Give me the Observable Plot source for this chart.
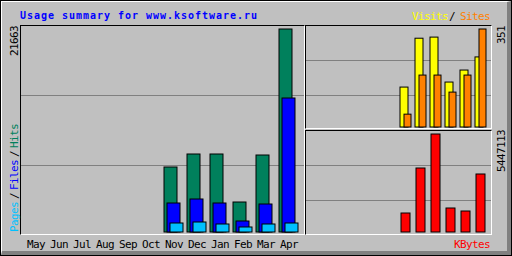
<!DOCTYPE html>
<html><head><meta charset="utf-8">
<script src="https://cdn.jsdelivr.net/npm/d3@7"></script>
<script src="https://cdn.jsdelivr.net/npm/@observablehq/plot@0.6"></script>
<style>
html,body{margin:0;padding:0;background:#C0C0C0;}
#chart{position:relative;width:512px;height:256px;background:#C0C0C0;overflow:hidden;font-family:"DejaVu Sans Mono",monospace;}
.frame{position:absolute;left:0;top:0;width:512px;height:256px;box-sizing:border-box;border:1px solid #000;}
.bevel{position:absolute;left:1px;top:1px;width:510px;height:254px;box-sizing:border-box;border-top:1px solid #fff;border-left:1px solid #fff;border-right:4px solid #808080;border-bottom:4px solid #808080;}
.panel{position:absolute;box-sizing:border-box;border-top:1px solid #000;border-left:1px solid #000;border-right:1px solid #fff;border-bottom:1px solid #fff;overflow:hidden;}
.lbl{position:absolute;white-space:nowrap;font-size:11px;line-height:11px;letter-spacing:-0.62px;}
.title{position:absolute;white-space:nowrap;font-size:10px;line-height:10px;font-weight:bold;letter-spacing:0.98px;color:#0000FF;}
.up{transform-origin:0 0;transform:rotate(-90deg);}
.up span{display:inline-block;}
</style></head>
<body>
<div id="chart">
  <div class="frame"></div>
  <div class="bevel"></div>
  <div class="panel" id="pMain" style="left:20px;top:25px;width:285px;height:210px;"></div>
  <div class="panel" id="pTop" style="left:305px;top:25px;width:187px;height:104px;"></div>
  <div class="panel" id="pBot" style="left:305px;top:130px;width:187px;height:105px;"></div>
</div>
<script>
// ---- data ----
const months = ["May","Jun","Jul","Aug","Sep","Oct","Nov","Dec","Jan","Feb","Mar","Apr"];
const hits   = [0,0,0,0,0,0, 6937, 8324, 8324, 3201, 8217, 21663];
const files  = [0,0,0,0,0,0, 3095, 3522, 3095, 1174, 2988, 14300];
const pages  = [0,0,0,0,0,0,  960, 1067,  854,  534,  854,   960];
const visits = [0,0,0,0,0,0,  143,  318,  322,  161,  204,   251];
const sites  = [0,0,0,0,0,0,   46,  186,  186,  125,  186,   351];
const kbytes = [0,0,0,0,0,0, 1056000, 3557000, 5447113, 1334000, 1167000, 3224000];
const gridLevels = [1, 2];
const titleText = "Usage summary for www.ksoftware.ru";

const rows = months.map((m, i) => ({month: m, hits: hits[i], files: files[i], pages: pages[i],
  visits: visits[i], sites: sites[i], kbytes: kbytes[i]}));

const maxHits = d3.max(hits);
const maxVS = d3.max([...visits, ...sites]);
const maxKB = d3.max(kbytes);

const baseStyle = {background: "transparent", fontFamily: "'DejaVu Sans Mono', monospace", fontSize: "11px", letterSpacing: "-0.62px", color: "#000"};
const chart = document.getElementById("chart");
function place(svg, parent) {
  svg.style.position = "absolute"; svg.style.left = "0px"; svg.style.top = "0px";
  svg.style.maxWidth = "none"; svg.style.background = "transparent";
  parent.appendChild(svg);
}

// ---- grids (inside panels) ----
function gridPlot(w, h, range) {
  return Plot.plot({width: w, height: h, margin: 0, style: baseStyle,
    y: {domain: [0, 3], range, axis: null},
    marks: [Plot.ruleY(gridLevels, {y: d => d, stroke: "#808080"})]});
}
place(gridPlot(283, 208, [209, -1]), document.getElementById("pMain"));
place(gridPlot(185, 102, [104, -1]), document.getElementById("pTop"));
place(gridPlot(185, 103, [104, -1]), document.getElementById("pBot"));

// ---- main hits/files/pages ----
place(Plot.plot({
  width: 512, height: 256, marginTop: 29, marginBottom: 24, marginLeft: 0, marginRight: 0,
  style: baseStyle,
  x: {type: "band", domain: months, range: [26, 292], paddingInner: 10/23, paddingOuter: 0, align: 0, round: false},
  y: {domain: [0, maxHits], axis: null},
  marks: [
    Plot.barY(rows, {filter: d => d.hits > 0, x: "month", y: "hits", inset: 0, fill: "#00805C", stroke: "#000"}),
    Plot.barY(rows, {filter: d => d.files > 0, x: "month", y: "files", dx: 3, inset: 0, fill: "#0000FF", stroke: "#000"}),
    Plot.barY(rows, {filter: d => d.pages > 0, x: "month", y: "pages", dx: 6, inset: 0, fill: "#00C0FF", stroke: "#000"}),
    Plot.axisX({tickSize: 0, tickPadding: 8, dx: 3, label: null, fill: "#000"})
  ]
}), chart);

// ---- visits / sites ----
place(Plot.plot({
  width: 512, height: 256, marginTop: 29, marginBottom: 129, marginLeft: 0, marginRight: 0,
  style: baseStyle,
  x: {type: "band", domain: months, range: [310, 483], paddingInner: 7/15, paddingOuter: 0, align: 0, round: false, axis: null},
  y: {domain: [0, maxVS], axis: null},
  marks: [
    Plot.barY(rows, {filter: d => d.visits > 0, x: "month", y: "visits", inset: 0, fill: "#FFFF00", stroke: "#000"}),
    Plot.barY(rows, {filter: d => d.sites > 0, x: "month", y: "sites", dx: 4, insetLeft: 0, insetRight: 1, fill: "#FF8000", stroke: "#000"})
  ]
}), chart);

// ---- kbytes ----
place(Plot.plot({
  width: 512, height: 256, marginTop: 134, marginBottom: 24, marginLeft: 0, marginRight: 0,
  style: baseStyle,
  x: {type: "band", domain: months, range: [311, 485], paddingInner: 6/15, paddingOuter: 0, align: 0, round: false, axis: null},
  y: {domain: [0, maxKB], axis: null},
  marks: [
    Plot.barY(rows, {filter: d => d.kbytes > 0, x: "month", y: "kbytes", inset: 0, fill: "#FF0000", stroke: "#000"})
  ]
}), chart);

// ---- labels ----
function addLabel(html, cls, left, top) {
  const d = document.createElement("div");
  d.className = cls; d.style.left = left + "px"; d.style.top = top + "px";
  d.innerHTML = html; chart.appendChild(d); return d;
}
const t = addLabel("", "title", 20, 10.5); t.textContent = titleText;
addLabel('<span style="color:#FFFF00">Visits</span>', "lbl", 412, 11.4);
addLabel('<span style="color:#000">/</span>', "lbl", 449, 11.4);
addLabel('<span style="color:#FF8000">Sites</span>', "lbl", 460, 11.4);
addLabel('<span style="color:#FF0000">KBytes</span>', "lbl", 454, 239.2);
addLabel('<span>' + maxHits + '</span>', "lbl up", 8.7, 56);
addLabel('<span style="color:#00C0FF">Pages</span><span style="margin-left:3px;color:#000">/</span><span style="margin-left:3px;color:#0000FF">Files</span><span style="margin-left:3px;color:#000">/</span><span style="margin-left:3px;color:#00805C">Hits</span>', "lbl up", 8.7, 232);
addLabel('<span>' + maxVS + '</span>', "lbl up", 495.7, 44);
addLabel('<span>' + maxKB + '</span>', "lbl up", 495.7, 172);
</script>
</body></html>
